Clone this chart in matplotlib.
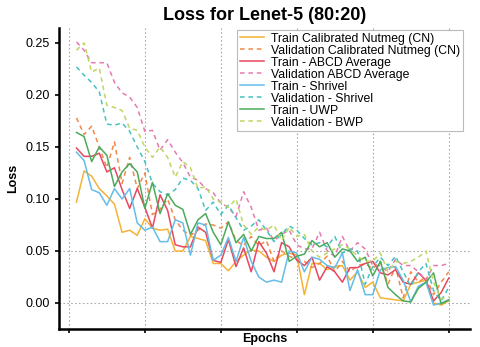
import matplotlib
matplotlib.use("Agg")
import matplotlib.pyplot as plt
import numpy as np

plt.rcParams['font.family'] = ['Liberation Sans', 'DejaVu Sans']

epochs = list(range(1, 51))

train_cn = [0.097, 0.127, 0.122, 0.110, 0.103, 0.095, 0.068, 0.070, 0.065, 0.081,
            0.072, 0.070, 0.071, 0.050, 0.050, 0.064, 0.062, 0.060, 0.038, 0.038,
            0.031, 0.040, 0.046, 0.051, 0.050, 0.044, 0.040, 0.046, 0.048, 0.046,
            0.008, 0.038, 0.038, 0.032, 0.035, 0.036, 0.022, 0.030, 0.015, 0.020,
            0.005, 0.004, 0.003, 0.002, 0.018, 0.020, 0.022, 0.000, -0.002, 0.002]
val_cn = [0.178, 0.162, 0.170, 0.150, 0.130, 0.155, 0.115, 0.140, 0.110, 0.125,
          0.085, 0.090, 0.100, 0.080, 0.070, 0.065, 0.070, 0.076, 0.075, 0.072,
          0.078, 0.060, 0.055, 0.064, 0.055, 0.060, 0.040, 0.050, 0.045, 0.042,
          0.040, 0.034, 0.038, 0.045, 0.030, 0.040, 0.030, 0.036, 0.038, 0.033,
          0.040, 0.018, 0.035, 0.005, 0.030, 0.020, 0.025, 0.008, 0.020, 0.030]
train_abcd = [0.149, 0.141, 0.141, 0.144, 0.126, 0.130, 0.109, 0.091, 0.110, 0.092,
              0.072, 0.104, 0.089, 0.056, 0.054, 0.054, 0.073, 0.068, 0.041, 0.039,
              0.061, 0.035, 0.053, 0.030, 0.059, 0.048, 0.030, 0.058, 0.054, 0.041,
              0.036, 0.044, 0.022, 0.035, 0.030, 0.020, 0.034, 0.034, 0.038, 0.040,
              0.029, 0.027, 0.032, 0.020, 0.018, 0.029, 0.022, 0.002, 0.010, 0.024]
val_abcd = [0.251, 0.243, 0.231, 0.231, 0.231, 0.212, 0.202, 0.198, 0.188, 0.165,
            0.166, 0.147, 0.157, 0.145, 0.135, 0.121, 0.118, 0.110, 0.106, 0.096,
            0.092, 0.083, 0.107, 0.092, 0.070, 0.072, 0.060, 0.066, 0.070, 0.056,
            0.052, 0.052, 0.068, 0.050, 0.045, 0.064, 0.050, 0.058, 0.052, 0.036,
            0.036, 0.030, 0.042, 0.036, 0.036, 0.030, 0.022, 0.036, 0.036, 0.038]
train_shrivel = [0.145, 0.137, 0.109, 0.106, 0.094, 0.110, 0.100, 0.110, 0.077, 0.070,
                 0.073, 0.059, 0.059, 0.080, 0.077, 0.046, 0.077, 0.075, 0.041, 0.046,
                 0.063, 0.040, 0.063, 0.040, 0.025, 0.020, 0.022, 0.020, 0.050, 0.048,
                 0.030, 0.044, 0.042, 0.036, 0.034, 0.048, 0.012, 0.032, 0.008, 0.008,
                 0.032, 0.034, 0.035, 0.022, 0.001, 0.016, 0.020, -0.002, 0.000, 0.003]
val_shrivel = [0.227, 0.219, 0.212, 0.203, 0.172, 0.171, 0.173, 0.165, 0.150, 0.136,
               0.115, 0.107, 0.104, 0.109, 0.120, 0.118, 0.110, 0.089, 0.097, 0.085,
               0.094, 0.082, 0.070, 0.074, 0.080, 0.070, 0.059, 0.066, 0.074, 0.070,
               0.062, 0.056, 0.058, 0.054, 0.064, 0.048, 0.052, 0.050, 0.018, 0.035,
               0.044, 0.036, 0.045, 0.030, 0.016, 0.030, 0.038, 0.012, 0.002, 0.015]
train_uwp = [0.164, 0.160, 0.136, 0.150, 0.142, 0.112, 0.126, 0.134, 0.126, 0.091,
             0.116, 0.086, 0.105, 0.094, 0.090, 0.066, 0.080, 0.086, 0.068, 0.056,
             0.078, 0.058, 0.066, 0.050, 0.064, 0.062, 0.062, 0.068, 0.040, 0.045,
             0.047, 0.060, 0.054, 0.058, 0.044, 0.052, 0.050, 0.040, 0.044, 0.026,
             0.040, 0.015, 0.008, 0.002, 0.001, 0.014, 0.020, 0.029, -0.001, 0.003]
val_bwp = [0.243, 0.250, 0.222, 0.226, 0.190, 0.188, 0.185, 0.168, 0.166, 0.150,
           0.140, 0.150, 0.140, 0.121, 0.136, 0.130, 0.110, 0.112, 0.100, 0.097,
           0.092, 0.100, 0.075, 0.066, 0.073, 0.070, 0.075, 0.060, 0.073, 0.064,
           0.066, 0.050, 0.044, 0.048, 0.052, 0.056, 0.052, 0.045, 0.040, 0.040,
           0.048, 0.030, 0.040, 0.038, 0.040, 0.044, 0.050, 0.020, 0.004, 0.006]

labels = ["Train Calibrated Nutmeg (CN)", "Validation Calibrated Nutmeg (CN)",
          "Train - ABCD Average", "Validation ABCD Average",
          "Train - Shrivel", "Validation - Shrivel",
          "Train - UWP", "Validation - BWP"]
series = [train_cn, val_cn, train_abcd, val_abcd, train_shrivel, val_shrivel, train_uwp, val_bwp]
colors = ["#F5B335", "#F0894A", "#E8475F", "#E57BB0", "#64BDE8", "#45C2C2", "#4BAA5C", "#BFD662"]
styles = ["-", "--", "-", "--", "-", "--", "-", "--"]

fig = plt.figure(figsize=(4.8, 3.47), dpi=100)
ax = fig.add_axes([59/480, 18/347, 411/480, 301/347])

for xv in range(0, 51, 10):
    ax.axvline(xv, color="#AAAAAA", linestyle=(0, (1.5, 2)), linewidth=0.8, zorder=0)
for yv in [0.0, 0.05]:
    ax.axhline(yv, color="#AAAAAA", linestyle=(0, (1.5, 2)), linewidth=0.8, zorder=0)

for s, lab, c, ls in zip(series, labels, colors, styles):
    if ls == "--":
        ax.plot(epochs, s, color=c, linestyle=(0, (3, 2.5)), linewidth=1.1, label=lab)
    else:
        ax.plot(epochs, s, color=c, linestyle="-", linewidth=1.1, label=lab)

ax.set_xlim(-1.3, 52.8)
ax.set_ylim(-0.025, 0.2644)
ax.set_xticks(range(0, 51, 10))
ax.set_xticklabels([])
ax.set_yticks([0.0, 0.05, 0.10, 0.15, 0.20, 0.25])
ax.set_yticklabels(["0.00", "0.05", "0.10", "0.15", "0.20", "0.25"], fontsize=9)
ax.tick_params(axis="both", direction="out", length=3, width=1.2, color="black")
for sp in ["top", "right"]:
    ax.spines[sp].set_visible(False)
for sp in ["left", "bottom"]:
    ax.spines[sp].set_linewidth(1.8)

ax.set_title("Loss for Lenet-5 (80:20)", fontsize=13, fontweight="bold", pad=6)
ax.set_ylabel("Loss", fontsize=9, fontweight="bold", labelpad=5)
ax.set_xlabel("Epochs", fontsize=9, fontweight="bold")
ax.xaxis.set_label_coords(0.5, -0.012)

leg = ax.legend(loc="upper right", bbox_to_anchor=(0.983, 0.993), fontsize=8.8,
                frameon=True, fancybox=False, borderaxespad=0, handlelength=2.0,
                labelspacing=0.0, borderpad=0.2, handletextpad=0.6)
leg.get_frame().set_edgecolor("#BBBBBB")
leg.get_frame().set_linewidth(0.8)
leg.get_frame().set_alpha(1)

fig.savefig("out.png", dpi=100)
